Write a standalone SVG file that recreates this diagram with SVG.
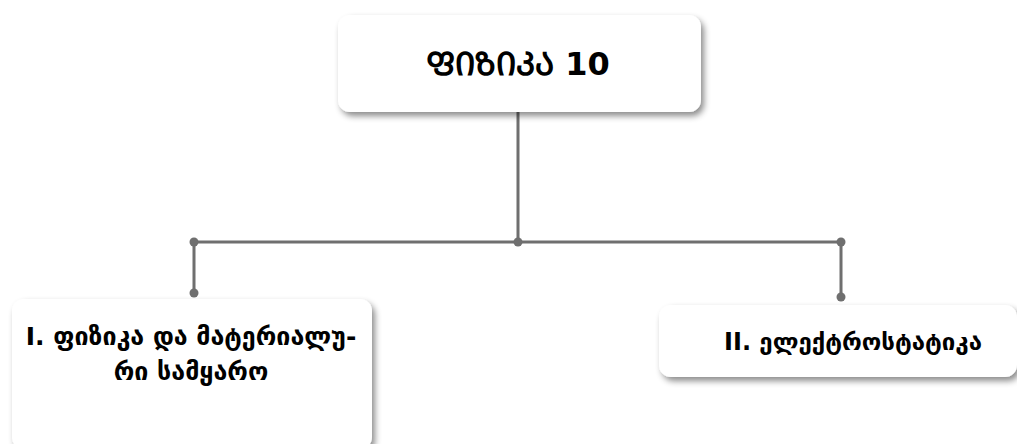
<svg xmlns="http://www.w3.org/2000/svg" width="1017" height="444" viewBox="0 0 1017 444">
  <defs>
    <filter id="shadow" x="-10%" y="-20%" width="125%" height="150%">
      <feDropShadow dx="3" dy="4" stdDeviation="3" flood-color="#000" flood-opacity="0.45"/>
    </filter>
  </defs>
  <style>
    .box { fill: #ffffff; filter: url(#shadow); }
    .line { stroke: #6f6f6f; stroke-width: 3; fill: none; }
    .dot { fill: #6f6f6f; }
    .t { font-family: "DejaVu Sans", "Noto Sans", sans-serif; fill: #000; text-anchor: middle; font-weight: bold; }
  </style>
  <rect width="1017" height="444" fill="#ffffff"/>

  <g id="connectors">
    <path class="line" d="M518 112 V242 M194 242 H841 M194 242 V293 M841 242 V297"/>
    <circle class="dot" cx="194" cy="242" r="4.5"/>
    <circle class="dot" cx="518" cy="242" r="4.5"/>
    <circle class="dot" cx="841" cy="242" r="4.5"/>
    <circle class="dot" cx="194" cy="293" r="4.5"/>
    <circle class="dot" cx="841" cy="297" r="4.5"/>
  </g>

  <g id="root">
    <rect class="box" x="338" y="15" width="363" height="97" rx="12"/>
    <text class="t" x="518" y="75" font-size="32">ᲤᲘᲖᲘᲙᲐ 10</text>
  </g>

  <g id="part1">
    <rect class="box" x="12" y="299" width="360" height="150" rx="12"/>
    <text class="t" x="191" y="345" font-size="25">I. ფიზიკა და მატერიალუ-</text>
    <text class="t" x="191" y="380" font-size="25">რი სამყარო</text>
  </g>

  <g id="part2">
    <rect class="box" x="659" y="305" width="358" height="72" rx="12"/>
    <text class="t" x="853" y="350" font-size="24">II. ელექტროსტატიკა</text>
  </g>
</svg>
